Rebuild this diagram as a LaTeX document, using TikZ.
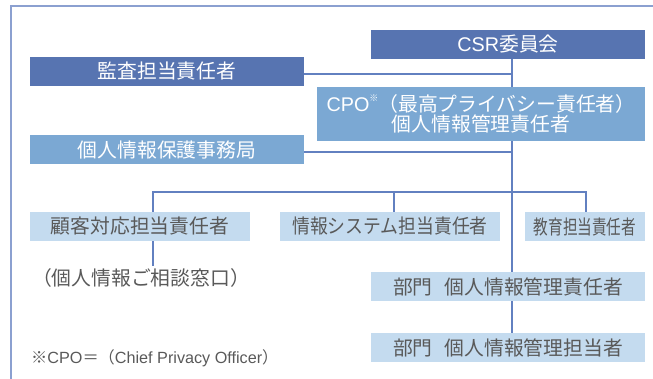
\documentclass[tikz,border=0pt]{standalone}
\usepackage{fontspec}
\setmainfont{Noto Sans CJK JP}
\newfontfamily\latinfont{Liberation Sans}
\usetikzlibrary{backgrounds}
\definecolor{dkblue}{HTML}{5774B1}
\definecolor{mdblue}{HTML}{7BA8D3}
\definecolor{ltblue}{HTML}{C4DBEF}
\definecolor{lnblue}{HTML}{6280C0}
\definecolor{frblue}{HTML}{8BA0D0}
\definecolor{txgray}{HTML}{595959}
\begin{document}
\begin{tikzpicture}[x=1pt,y=-1pt,
  boxbase/.style={rectangle, inner sep=0pt, minimum height=29pt, font=\fontsize{19.8}{21}\selectfont},
  darkbox/.style={boxbase, fill=dkblue, text=white},
  midbox/.style={boxbase, fill=mdblue, text=white},
  lightbox/.style={boxbase, fill=ltblue, text=txgray},
  conn/.style={draw=lnblue, line width=1.8pt},
  frame/.style={draw=frblue, line width=1.5pt}]
\useasboundingbox (0,0) rectangle (653,378);
\draw[frame] (11,380) -- (11,6) -- (655,6);
% coordinates for connector routing
\coordinate (trunk) at (512,0);
\coordinate (branch) at (0,192);
\coordinate (dropA) at (153,0);
\coordinate (dropB) at (394,0);
\coordinate (dropC) at (586,0);
\coordinate (deskend) at (153,266);
% nodes
\node[darkbox, minimum width=274pt] (csr) at (508,44) {{\latinfont CSR}委員会};
\node[darkbox, minimum width=274pt] (audit) at (167,71.5) {監査担当責任者};
\node[midbox, minimum width=328pt, minimum height=54pt, align=center] (cpo) at (481,114) {{\latinfont CPO}\raisebox{0.5em}{\fontsize{9}{9}\selectfont ※}（最高プライバシー責任者）\\[-1pt]個人情報管理責任者};
\node[midbox, minimum width=274pt] (office) at (167,149.5) {個人情報保護事務局};
\node[lightbox, minimum width=220pt] (cust) at (140,226.5) {顧客対応担当責任者};
\node[lightbox, minimum width=220pt] (sys) at (390,226.5) {\scalebox{0.9}[1]{情報システム担当責任者}};
\node[lightbox, minimum width=120pt] (edu) at (585,226.5) {\scalebox{0.74}[1]{教育担当責任者}};
\node[lightbox, minimum width=274pt] (bu1) at (508,286.5) {部門\hspace{0.6em}個人情報管理責任者};
\node[lightbox, minimum width=274pt] (bu2) at (508,347.5) {部門\hspace{0.6em}個人情報管理担当者};
\node[anchor=center, text=txgray, font=\fontsize{19.8}{21}\selectfont, inner sep=0pt] (desk) at (141,278) {（個人情報ご相談窓口）};
\node[anchor=west, text=txgray, font=\fontsize{16.2}{17}\selectfont, inner sep=0pt] (note) at (31,358) {※{\latinfont CPO}＝（{\latinfont Chief Privacy Officer}）};
% connectors (behind boxes)
\begin{scope}[on background layer]
\draw[conn] (trunk |- csr.south) -- (trunk |- bu2.north);
\draw[conn] ([yshift=-2.5pt]audit.east) -- ([yshift=-2.5pt]audit.east -| trunk);
\draw[conn] ([yshift=-2.5pt]office.east) -- ([yshift=-2.5pt]office.east -| trunk);
\draw[conn] (dropA |- cust.north) -- (dropA |- branch) -- (dropC |- branch) -- (dropC |- edu.north);
\draw[conn] (dropB |- branch) -- (dropB |- sys.north);
\draw[conn] (dropA |- cust.south) -- (deskend);
\end{scope}
\end{tikzpicture}
\end{document}
